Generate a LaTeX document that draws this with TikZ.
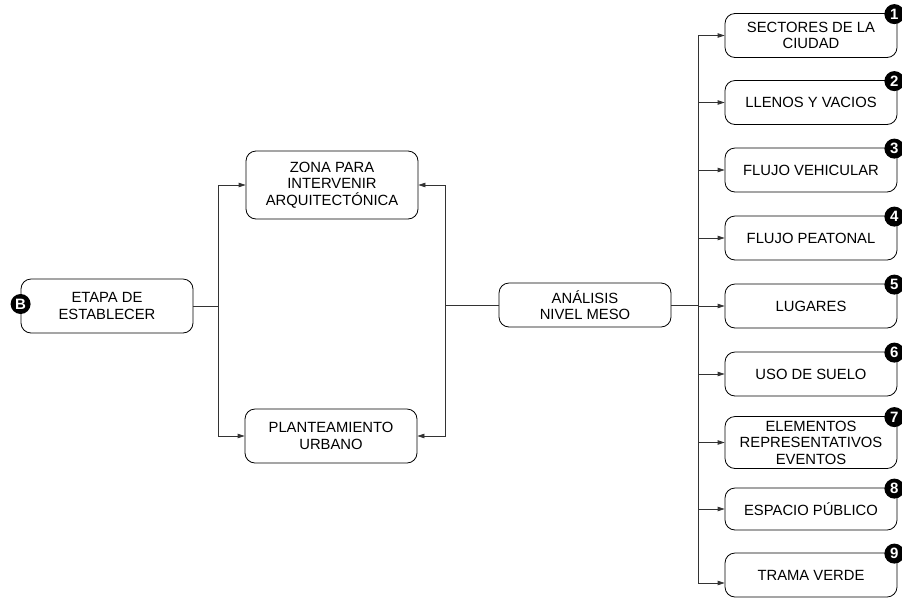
\documentclass[tikz,border=0pt]{standalone}
\usepackage{fontspec}
\setmainfont{Liberation Sans}
\usetikzlibrary{arrows.meta,calc}
\begin{document}
\begin{tikzpicture}[x=1pt,y=-1pt,
  box/.style={draw=black,line width=0.8pt,rounded corners=10pt,minimum width=172pt,
    align=center,inner sep=2pt,font=\fontsize{14.8}{16.5}\selectfont},
  conn/.style={draw=black!80,line width=0.8pt},
  arr/.style={conn,-{Triangle[length=7pt,width=4.5pt]}},
  badge/.style={circle,fill=black,text=white,inner sep=0pt,minimum size=20pt,
    font=\fontsize{15}{15}\selectfont\bfseries}]
\useasboundingbox (0,0) rectangle (902,598);
% left part
\node[box,minimum height=54pt] (etapa) at (107,306) {ETAPA DE\\ESTABLECER};
\node[box,minimum height=68pt] (zona) at (332,185) {ZONA PARA\\INTERVENIR\\ARQUITECTÓNICA};
\node[box,minimum height=54pt] (plan) at (331,436) {PLANTEAMIENTO\\URBANO};
\node[box,minimum height=44pt] (meso) at (585,305) {ANÁLISIS\\NIVEL MESO};
\node[badge] (bB) at (etapa.west) [yshift=2pt] {B};
% right boxes
\node[box,minimum height=44pt] (b1) at (811,35.5) {SECTORES DE LA\\CIUDAD};
\node[box,minimum height=44pt] (b2) at (811,102.5) {LLENOS Y VACIOS};
\node[box,minimum height=44pt] (b3) at (811,170) {FLUJO VEHICULAR};
\node[box,minimum height=44pt] (b4) at (811,238) {FLUJO PEATONAL};
\node[box,minimum height=44pt] (b5) at (811,306) {LUGARES};
\node[box,minimum height=44pt] (b6) at (811,374) {USO DE SUELO};
\node[box,minimum height=52pt] (b7) at (811,442.5) {ELEMENTOS\\REPRESENTATIVOS\\EVENTOS};
\node[box,minimum height=42pt] (b8) at (811,509) {ESPACIO PÚBLICO};
\node[box,minimum height=44pt] (b9) at (811,575) {TRAMA VERDE};
\foreach \i in {1,...,9}{
  \node[badge] (n\i) at ($(b\i.north east)+(-3,1)$) {\i};
}
% connectors left
\coordinate (jl) at (218,306);
\draw[conn] (etapa.east) -- (jl);
\draw[arr] (jl) |- (zona.west);
\draw[arr] (jl) |- (plan.west);
\coordinate (jm) at (445,305);
\draw[conn] (meso.west) -- (jm);
\draw[arr] (jm) |- (zona.east);
\draw[arr] (jm) |- (plan.east);
% connectors right
\coordinate (jr) at (698,305);
\coordinate (t9) at (698,583);
\draw[conn] (meso.east) -- (jr);
\foreach \i in {1,...,8}{
  \draw[arr] (jr) |- (b\i.west);
}
\draw[arr] (jr) -- (t9) -- (b9.west |- t9);
\end{tikzpicture}
\end{document}
